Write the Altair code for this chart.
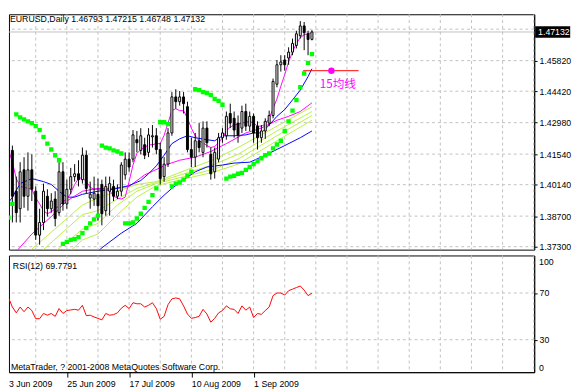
import altair as alt
import pandas as pd

# ---------------- values ----------------
opens = [1.4340, 1.4095, 1.4171, 1.3984, 1.3904, 1.4082, 1.3961, 1.4082, 1.3984, 1.3783,
         1.3841, 1.3961, 1.3904, 1.3948, 1.3886, 1.4073, 1.3926, 1.3993, 1.4051, 1.4064,
         1.4037, 1.4149, 1.3953, 1.3948, 1.3970, 1.4015, 1.3895, 1.3984, 1.4006, 1.3961,
         1.3984, 1.4059, 1.4131, 1.4131, 1.4220, 1.4171, 1.4197, 1.4162, 1.4233, 1.4238,
         1.4175, 1.4051, 1.4108, 1.4251, 1.4416, 1.4394, 1.4416, 1.4371, 1.4175, 1.4140,
         1.4215, 1.4162, 1.4273, 1.4153, 1.4073, 1.4131, 1.4229, 1.4238, 1.4340, 1.4318,
         1.4296, 1.4273, 1.4349, 1.4282, 1.4327, 1.4282, 1.4229, 1.4260, 1.4296, 1.4331,
         1.4474, 1.4563, 1.4585, 1.4594, 1.4621, 1.4652, 1.4696, 1.4741, 1.4705, 1.46793]
highs = [1.4362, 1.4206, 1.4193, 1.4051, 1.4117, 1.4140, 1.4162, 1.4153, 1.4006, 1.3904,
         1.4019, 1.3993, 1.3975, 1.3984, 1.4117, 1.4117, 1.4037, 1.4091, 1.4108, 1.4126,
         1.4184, 1.4171, 1.4028, 1.4051, 1.4042, 1.4037, 1.4051, 1.4051, 1.4037, 1.4015,
         1.4117, 1.4162, 1.4162, 1.4264, 1.4260, 1.4273, 1.4229, 1.4273, 1.4287, 1.4273,
         1.4206, 1.4140, 1.4273, 1.4438, 1.4451, 1.4443, 1.4438, 1.4394, 1.4229, 1.4251,
         1.4296, 1.4304, 1.4304, 1.4184, 1.4184, 1.4251, 1.4273, 1.4349, 1.4385, 1.4349,
         1.4331, 1.4376, 1.4385, 1.4349, 1.4340, 1.4304, 1.4287, 1.4318, 1.4353, 1.4500,
         1.4585, 1.4607, 1.4607, 1.4643, 1.4683, 1.4719, 1.4763, 1.4759, 1.4719, 1.47215]
lows = [1.4117, 1.4073, 1.3841, 1.3841, 1.3841, 1.3908, 1.3895, 1.3939, 1.3761, 1.3739,
        1.3806, 1.3868, 1.3886, 1.3823, 1.3872, 1.3895, 1.3904, 1.3970, 1.4028, 1.4006,
        1.4019, 1.3975, 1.3904, 1.3917, 1.3850, 1.3828, 1.3872, 1.3872, 1.3939, 1.3948,
        1.3961, 1.4037, 1.4073, 1.4117, 1.4162, 1.4153, 1.4131, 1.4140, 1.4184, 1.4153,
        1.4015, 1.4028, 1.4095, 1.4238, 1.4362, 1.4376, 1.4340, 1.4162, 1.4095, 1.4095,
        1.4162, 1.4140, 1.4184, 1.4037, 1.4042, 1.4117, 1.4206, 1.4220, 1.4273, 1.4229,
        1.4206, 1.4251, 1.4260, 1.4260, 1.4206, 1.4175, 1.4206, 1.4224, 1.4282, 1.4318,
        1.4460, 1.4532, 1.4536, 1.4563, 1.4607, 1.4638, 1.4683, 1.4630, 1.4607, 1.46748]
closes = [1.4162, 1.4175, 1.3961, 1.3886, 1.4073, 1.3961, 1.4082, 1.3993, 1.3783, 1.3841,
          1.3984, 1.3904, 1.3939, 1.3859, 1.4073, 1.3926, 1.3993, 1.4051, 1.4064, 1.4037,
          1.4149, 1.3997, 1.3970, 1.3975, 1.3917, 1.3881, 1.4006, 1.4019, 1.3961, 1.3984,
          1.4104, 1.4131, 1.4095, 1.4242, 1.4206, 1.4238, 1.4149, 1.4242, 1.4238, 1.4175,
          1.4042, 1.4108, 1.4251, 1.4416, 1.4394, 1.4416, 1.4385, 1.4175, 1.4140, 1.4215,
          1.4184, 1.4273, 1.4206, 1.4064, 1.4162, 1.4229, 1.4251, 1.4327, 1.4296, 1.4264,
          1.4242, 1.4349, 1.4282, 1.4327, 1.4251, 1.4229, 1.4260, 1.4304, 1.4331, 1.4487,
          1.4563, 1.4576, 1.4563, 1.4621, 1.4661, 1.4705, 1.4741, 1.4710, 1.4679, 1.47132]

ma_fast = [1.4140, 1.4175, 1.4117, 1.4042, 1.4006, 1.4002, 1.3997, 1.3993, 1.3953, 1.3926,
           1.3895, 1.3881, 1.3890, 1.3904, 1.3917, 1.3935, 1.3948, 1.3975, 1.4015, 1.4042,
           1.4046, 1.4028, 1.4002, 1.3993, 1.3993, 1.3993, 1.3993, 1.3988, 1.3961, 1.3953,
           1.3948, 1.3957, 1.4028, 1.4104, 1.4157, 1.4175, 1.4184, 1.4197, 1.4197, 1.4202,
           1.4202, 1.4240, 1.4296, 1.4353, 1.4362, 1.4353, 1.4353, 1.4318, 1.4273, 1.4238,
           1.4215, 1.4206, 1.4193, 1.4184, 1.4189, 1.4206, 1.4229, 1.4260, 1.4278, 1.4287,
           1.4291, 1.4296, 1.4300, 1.4304, 1.4296, 1.4282, 1.4282, 1.4291, 1.4318, 1.4362,
           1.4407, 1.4465, 1.4518, 1.4576, 1.4621, 1.4661, 1.4687, 1.4701, 1.4705, 1.4710]

ma15_bar = [0, 2, 4, 7, 10, 12, 14, 16, 18, 20, 24, 28, 32, 35, 37, 39, 41, 43, 45, 47,
            49, 52, 54, 56, 59, 62, 64, 66, 68, 70, 72, 74, 76, 78, 79]
ma15_val = [1.3904, 1.3957, 1.4019, 1.4042, 1.4028, 1.4015, 1.3984, 1.3957, 1.3957, 1.3970,
            1.3984, 1.3993, 1.4010, 1.4033, 1.4064, 1.4100, 1.4149, 1.4202, 1.4224, 1.4238,
            1.4229, 1.4220, 1.4215, 1.4238, 1.4238, 1.4242, 1.4251, 1.4251, 1.4287, 1.4327,
            1.4358, 1.4402, 1.4447, 1.4509, 1.4545]

slowm_bar = [3, 7, 12, 16, 20, 24, 28, 32, 36, 42, 45, 49, 53, 57, 62, 66, 70, 73, 76, 79]
slowm_val = [1.3708, 1.3788, 1.3868, 1.3939, 1.3984, 1.3997, 1.3997, 1.4006, 1.4059, 1.4108,
             1.4126, 1.4140, 1.4166, 1.4202, 1.4251, 1.4273, 1.4309, 1.4327, 1.4349, 1.4389]

slowb_bar = [24, 25, 30, 34, 38, 41, 43, 46, 49, 52, 56, 59, 63, 67, 72, 76, 79]
slowb_val = [1.3708, 1.3725, 1.3792, 1.3837, 1.3913, 1.3966, 1.3997, 1.4037, 1.4073, 1.4095,
             1.4104, 1.4113, 1.4117, 1.4149, 1.4193, 1.4229, 1.4260]

yl1_bar = [6, 20, 24, 29, 34, 39, 54, 60, 70, 79]
yl1_val = [1.3703, 1.3921, 1.3953, 1.3984, 1.4015, 1.4028, 1.4131, 1.4184, 1.4282, 1.4371]
yl2_bar = [10, 20, 24, 29, 34, 39, 54, 60, 70, 79]
yl2_val = [1.3717, 1.3877, 1.3895, 1.3948, 1.3997, 1.4024, 1.4108, 1.4153, 1.4260, 1.4349]
yl3_bar = [13, 20, 24, 29, 34, 39, 54, 60, 70, 79]
yl3_val = [1.3708, 1.3810, 1.3837, 1.3921, 1.3984, 1.4019, 1.4086, 1.4131, 1.4238, 1.4331]
yl4_bar = [17, 20, 24, 29, 34, 39, 54, 60, 70, 79]
yl4_val = [1.3712, 1.3761, 1.3788, 1.3877, 1.3957, 1.4010, 1.4073, 1.4108, 1.4215, 1.4309]

sar = [1.3788, 1.3863, 1.3926, 1.4336, 1.4322, 1.4313, 1.4304, 1.4296, 1.4282, 1.4264,
       1.4233, 1.4202, 1.4175, 1.4149, 1.4126, 1.3743, 1.3752, 1.3761, 1.3765, 1.3774,
       1.3792, 1.3815, 1.3837, 1.3855, 1.3872, 1.4193, 1.4184, 1.4180, 1.4171, 1.4166,
       1.4157, 1.3837, 1.3837, 1.3841, 1.3859, 1.3881, 1.3908, 1.3935, 1.3966, 1.3997,
       1.4300, 1.4300, 1.4291, 1.4006, 1.4019, 1.4024, 1.4037, 1.4055, 1.4073, 1.4451,
       1.4447, 1.4438, 1.4434, 1.4425, 1.4407, 1.4398, 1.4380, 1.4042, 1.4051, 1.4055,
       1.4064, 1.4068, 1.4082, 1.4095, 1.4108, 1.4122, 1.4135, 1.4149, 1.4157, 1.4180,
       1.4198, 1.4215, 1.4260, 1.4304, 1.4353, 1.4402, 1.4460, 1.4523, 1.4572, 1.4612]

rsi12 = [65, 66, 58, 53, 58, 54, 58, 55, 48, 48,
         52.5, 51, 52.5, 50, 56.7, 52.5, 55, 55.5, 56, 55.3,
         59.5, 50.6, 51, 49.5, 48.3, 47, 52.5, 51, 51.5, 53,
         57, 59.5, 56.7, 61.7, 60.8, 60.8, 58, 59.5, 61.7, 56.7,
         47.5, 50, 60, 65, 65.8, 65, 59, 52, 48.3, 49,
         50, 56, 52, 45, 48.3, 53, 55, 59, 56.5, 56,
         52.5, 59, 55.3, 58, 49, 52.5, 51.7, 55, 58, 67.8,
         70, 70, 68.3, 72, 73.3, 74.7, 76, 72.5, 67.8, 69.7791]
rsi_last = 69.7791

hline_bar = [76.75, 91.0]
hline_mid = 84.0
hline_price = 1.4536
label_text = "15均线"
label_bar = 81.0
label_price = 1.4474

price_ticks = [1.3730, 1.3870, 1.4014, 1.4154, 1.4298, 1.4442, 1.4582]
price_grid = price_ticks + [1.4726]
bar_grid = list(range(8, 137, 8))
date_tick_bars = [0, 16, 32, 48, 64]
date_tick_labels = ["3 Jun 2009", "25 Jun 2009", "17 Jul 2009", "10 Aug 2009", "1 Sep 2009"]
rsi_ticks = [30, 70]
rsi_grid = [30, 70]
rsi_edge_labels = ["100", "0"]

# ---------------- chart ----------------
FONT = "Liberation Sans"
W, H1, H2 = 540, 242, 120
GRID = "#c0c0c0"
xs = alt.Scale(domain=[1.125, 136.125], nice=False, zero=False)
ys = alt.Scale(domain=[1.37165, 1.47944], nice=False, zero=False)
rs = alt.Scale(domain=[2.17, 102.17], nice=False, zero=False)

n = len(closes)
bars = pd.DataFrame({"i": list(range(n)), "open": opens, "high": highs,
                     "low": lows, "close": closes})
bars["x0"] = bars["i"] - 0.25
bars["x1"] = bars["i"] + 0.25
bars["dir"] = ["up" if c >= o else "down" for o, c in zip(opens, closes)]


def X(f):
    return alt.X(f, scale=xs, axis=None)


def Y(f):
    return alt.Y(f, scale=ys, axis=None)


grid_h = alt.Chart(pd.DataFrame({"p": price_grid})).mark_rule(
    color=GRID, strokeDash=[3, 3], strokeWidth=1).encode(y=Y("p:Q"))
grid_v = alt.Chart(pd.DataFrame({"b": bar_grid})).mark_rule(
    color=GRID, strokeDash=[3, 3], strokeWidth=1).encode(x=X("b:Q"))
bid = alt.Chart(pd.DataFrame({"p": [closes[-1]]})).mark_rule(
    color=GRID, strokeWidth=1).encode(y=Y("p:Q"))


def line(bx, vals, color):
    df = pd.DataFrame({"i": bx, "v": vals})
    return alt.Chart(df).mark_line(color=color, strokeWidth=1, clip=True).encode(
        x=X("i:Q"), y=Y("v:Q"))


yl_rows = []
for k, (bx, vv) in enumerate([(yl1_bar, yl1_val), (yl2_bar, yl2_val),
                              (yl3_bar, yl3_val), (yl4_bar, yl4_val)]):
    for b, v in zip(bx, vv):
        yl_rows.append({"s": k, "i": b, "v": v})
yellow = alt.Chart(pd.DataFrame(yl_rows)).mark_line(
    color="#b8f040", strokeWidth=1, clip=True).encode(
    x=X("i:Q"), y=Y("v:Q"), detail="s:N")

slow_blue = line(slowb_bar, slowb_val, "#0000ff")
slow_mag = line(slowm_bar, slowm_val, "#ff00ff")
ma15 = line(ma15_bar, ma15_val, "#0000ff")
fast = line(list(range(n)), ma_fast, "#ff00ff")

wicks = alt.Chart(bars).mark_rule(color="black", strokeWidth=1, clip=True).encode(
    x=X("i:Q"), y=Y("low:Q"), y2="high:Q")
bodies = alt.Chart(bars).mark_rect(stroke="black", strokeWidth=1, clip=True).encode(
    x=X("x0:Q"), x2="x1:Q",
    y=alt.Y("open:Q", scale=ys,
            axis=alt.Axis(orient="right", values=price_ticks, format=".5f", grid=False,
                          tickSize=3, labelPadding=2, title=None)),
    y2="close:Q",
    fill=alt.Fill("dir:N", scale=alt.Scale(domain=["up", "down"], range=["white", "black"]),
                  legend=None))

sar_layer = alt.Chart(pd.DataFrame({"i": list(range(n)), "s": sar})).mark_square(
    size=20, color="#00ff00", opacity=1, clip=True).encode(x=X("i:Q"), y=Y("s:Q"))

hl = alt.Chart(pd.DataFrame({"b0": [hline_bar[0]], "b1": [hline_bar[1]], "p": [hline_price]})
               ).mark_rule(color="#ff0000", strokeWidth=1).encode(x=X("b0:Q"), x2="b1:Q", y=Y("p:Q"))
hl_dot = alt.Chart(pd.DataFrame({"b": [hline_mid], "p": [hline_price]})).mark_circle(
    size=45, color="#ff00ff", opacity=1).encode(x=X("b:Q"), y=Y("p:Q"))
hl_text = alt.Chart(pd.DataFrame({"b": [label_bar], "p": [label_price], "t": [label_text]})
                    ).mark_text(font="Noto Sans CJK SC", fontSize=12, color="#ff00ff",
                                align="left", baseline="middle").encode(
    x=X("b:Q"), y=Y("p:Q"), text="t:N")

header = "EURUSD,Daily  %.5f %.5f %.5f %.5f" % (opens[-1], highs[-1], lows[-1], closes[-1])
head = alt.Chart(pd.DataFrame({"t": [header]})).mark_text(
    font=FONT, fontSize=9, color="black", align="left", baseline="top").encode(
    x=alt.value(1), y=alt.value(1), text="t:N")

box_df = pd.DataFrame({"p": [closes[-1]], "t": ["%.5f" % closes[-1]]})
box = alt.Chart(box_df).mark_rule(color="black", strokeWidth=12).encode(
    x=alt.value(W + 1), x2=alt.value(W + 37), y=Y("p:Q"))
box_t = alt.Chart(box_df).mark_text(font=FONT, fontSize=9, color="white",
                                    align="left", baseline="middle").encode(
    x=alt.value(W + 4), y=Y("p:Q"), text="t:N")

main = alt.layer(grid_h, grid_v, bid, yellow, slow_blue, slow_mag, ma15, fast,
                 wicks, bodies, sar_layer, hl, hl_dot, hl_text, head, box, box_t
                 ).resolve_axis(x="independent", y="independent").properties(width=W, height=H1)

# ---- RSI panel ----
axis_bars = date_tick_bars[1:]
label_expr = " : ".join("datum.value == %d ? '%s'" % (b, t)
                        for b, t in zip(date_tick_bars, date_tick_labels)) + " : ''"
rgrid_h = alt.Chart(pd.DataFrame({"r": rsi_grid})).mark_rule(
    color=GRID, strokeDash=[3, 3], strokeWidth=1).encode(
    y=alt.Y("r:Q", scale=rs, axis=None))
rgrid_v = alt.Chart(pd.DataFrame({"b": bar_grid})).mark_rule(
    color=GRID, strokeDash=[3, 3], strokeWidth=1).encode(x=X("b:Q"))
rsi_line = alt.Chart(pd.DataFrame({"i": list(range(n)), "r": rsi12})).mark_line(
    color="#ff0000", strokeWidth=1, clip=True).encode(
    x=alt.X("i:Q", scale=xs,
            axis=alt.Axis(values=axis_bars, labelExpr=label_expr, grid=False,
                          tickSize=5, labelAlign="left", labelBaseline="top",
                          labelPadding=3, labelFlush=False, labelOverlap=False,
                          title=None)),
    y=alt.Y("r:Q", scale=rs,
            axis=alt.Axis(orient="right", values=rsi_ticks, grid=False, tickSize=3,
                          labelPadding=2, title=None)))
first_date = alt.Chart(pd.DataFrame({"t": [date_tick_labels[0]]})).mark_text(
    font=FONT, fontSize=9, color="black", align="left", baseline="top").encode(
    x=alt.value(0), y=alt.value(H2 + 8), text="t:N")
rsi_title = alt.Chart(pd.DataFrame({"t": ["RSI(12) %.4f" % rsi_last]})).mark_text(
    font=FONT, fontSize=9, color="black", align="left", baseline="middle").encode(
    x=alt.value(4), y=alt.value(11), text="t:N")
copyright = alt.Chart(pd.DataFrame({"t": ["MetaTrader, ? 2001-2008 MetaQuotes Software Corp."]})
                      ).mark_text(font=FONT, fontSize=9, color="black", align="left",
                                  baseline="middle").encode(
    x=alt.value(2), y=alt.value(H2 - 5), text="t:N")
top_lab = alt.Chart(pd.DataFrame({"t": [rsi_edge_labels[0]]})).mark_text(
    font=FONT, fontSize=9, color="black", align="left", baseline="middle").encode(
    x=alt.value(W + 5), y=alt.value(7), text="t:N")
bot_lab = alt.Chart(pd.DataFrame({"t": [rsi_edge_labels[1]]})).mark_text(
    font=FONT, fontSize=9, color="black", align="left", baseline="middle").encode(
    x=alt.value(W + 5), y=alt.value(H2 - 4), text="t:N")

rsi_chart = alt.layer(rgrid_h, rgrid_v, rsi_line, first_date, rsi_title, copyright,
                      top_lab, bot_lab
                      ).resolve_axis(x="independent", y="independent").properties(width=W, height=H2)

chart = alt.vconcat(main, rsi_chart, spacing=2).properties(
    padding=0, background="white"
).configure_view(stroke="black", strokeWidth=1).configure_axis(
    labelFont=FONT, labelFontSize=9, labelColor="black", domainColor="black",
    tickColor="black", domainWidth=1, tickWidth=1)

chart.save("out.html", embed_options={"renderer": "svg", "actions": False})
